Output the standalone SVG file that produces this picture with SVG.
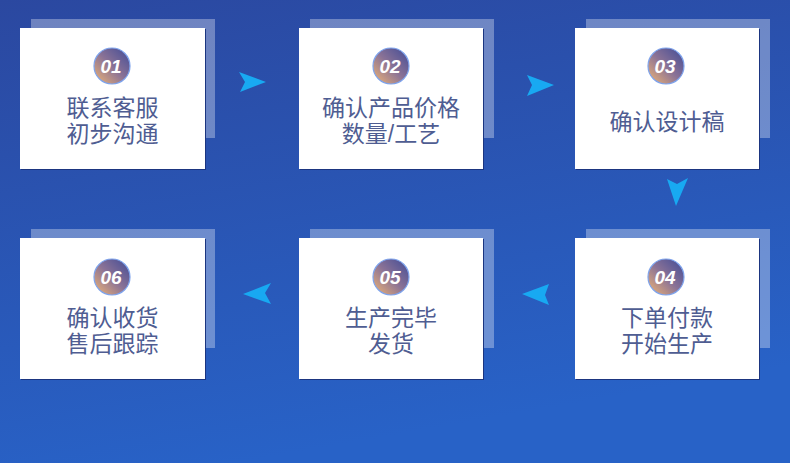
<svg xmlns="http://www.w3.org/2000/svg" width="790" height="463" viewBox="0 0 790 463">
<defs>
<linearGradient id="bg" x1="0" y1="0" x2="0.3" y2="1">
<stop offset="0" stop-color="#2b48a0"/>
<stop offset="1" stop-color="#2862c7"/>
</linearGradient>
<linearGradient id="badge" x1="0" y1="1" x2="1" y2="0">
<stop offset="0" stop-color="#f2b674"/>
<stop offset="0.5" stop-color="#8a7296"/>
<stop offset="1" stop-color="#3f4a96"/>
</linearGradient>
<style>
.sh{fill:#ffffff;fill-opacity:0.32}
.edge{fill:#1b3580}
.card{fill:#ffffff}
.lbl{font-family:"Liberation Sans","Noto Sans CJK SC",sans-serif;font-size:23px;fill:#4f5d92;text-anchor:middle}
.num{font-family:"Liberation Sans",sans-serif;font-size:19px;font-style:italic;font-weight:bold;fill:#ffffff;text-anchor:middle}
.bd{fill:url(#badge);stroke:#7ea3ec;stroke-width:1.2}
.arr{fill:#18a9f2}
</style>
</defs>
<rect width="790" height="463" fill="url(#bg)"/>

<g id="connectors">
<polygon class="arr" points="239,72 266,82 240,92 245,82"/>
<polygon class="arr" points="527,75 554,85 527,96 532,85"/>
<polygon class="arr" points="667,179 677,184 688,178 676,206"/>
<polygon class="arr" points="522,294 549,284 545,295 549,305"/>
<polygon class="arr" points="243,294 271,283 265,293 271,304"/>
</g>

<g id="n1">
<rect class="sh" x="31" y="19" width="184" height="119"/>
<rect class="edge" x="21" y="29" width="185" height="141"/>
<rect class="card" x="20" y="28" width="185" height="141"/>
<circle class="bd" cx="112" cy="66" r="18"/>
<text class="num" x="111" y="73">01</text>
<text class="lbl"><tspan x="112.5" y="116">联系客服</tspan><tspan x="112.5" y="142">初步沟通</tspan></text>
</g>

<g id="n2">
<rect class="sh" x="310" y="19" width="184" height="119"/>
<rect class="edge" x="300" y="29" width="184" height="141"/>
<rect class="card" x="299" y="28" width="184" height="141"/>
<circle class="bd" cx="391" cy="66" r="18"/>
<text class="num" x="390" y="73">02</text>
<text class="lbl"><tspan x="391" y="116">确认产品价格</tspan><tspan x="391" y="142">数量/工艺</tspan></text>
</g>

<g id="n3">
<rect class="sh" x="586" y="19" width="184" height="119"/>
<rect class="edge" x="576" y="29" width="184" height="141"/>
<rect class="card" x="575" y="28" width="184" height="141"/>
<circle class="bd" cx="666" cy="66" r="18"/>
<text class="num" x="665" y="73">03</text>
<text class="lbl" x="667" y="130">确认设计稿</text>
</g>

<g id="n4">
<rect class="sh" x="586" y="229" width="184" height="119"/>
<rect class="edge" x="576" y="239" width="184" height="141"/>
<rect class="card" x="575" y="238" width="184" height="141"/>
<circle class="bd" cx="666" cy="277" r="18"/>
<text class="num" x="665" y="284">04</text>
<text class="lbl"><tspan x="667" y="326">下单付款</tspan><tspan x="667" y="352">开始生产</tspan></text>
</g>

<g id="n5">
<rect class="sh" x="310" y="229" width="184" height="119"/>
<rect class="edge" x="300" y="239" width="184" height="141"/>
<rect class="card" x="299" y="238" width="184" height="141"/>
<circle class="bd" cx="391" cy="277" r="18"/>
<text class="num" x="390" y="284">05</text>
<text class="lbl"><tspan x="391" y="326">生产完毕</tspan><tspan x="391" y="352">发货</tspan></text>
</g>

<g id="n6">
<rect class="sh" x="31" y="229" width="184" height="119"/>
<rect class="edge" x="21" y="239" width="185" height="141"/>
<rect class="card" x="20" y="238" width="185" height="141"/>
<circle class="bd" cx="112" cy="277" r="18"/>
<text class="num" x="111" y="284">06</text>
<text class="lbl"><tspan x="112.5" y="326">确认收货</tspan><tspan x="112.5" y="352">售后跟踪</tspan></text>
</g>
</svg>
